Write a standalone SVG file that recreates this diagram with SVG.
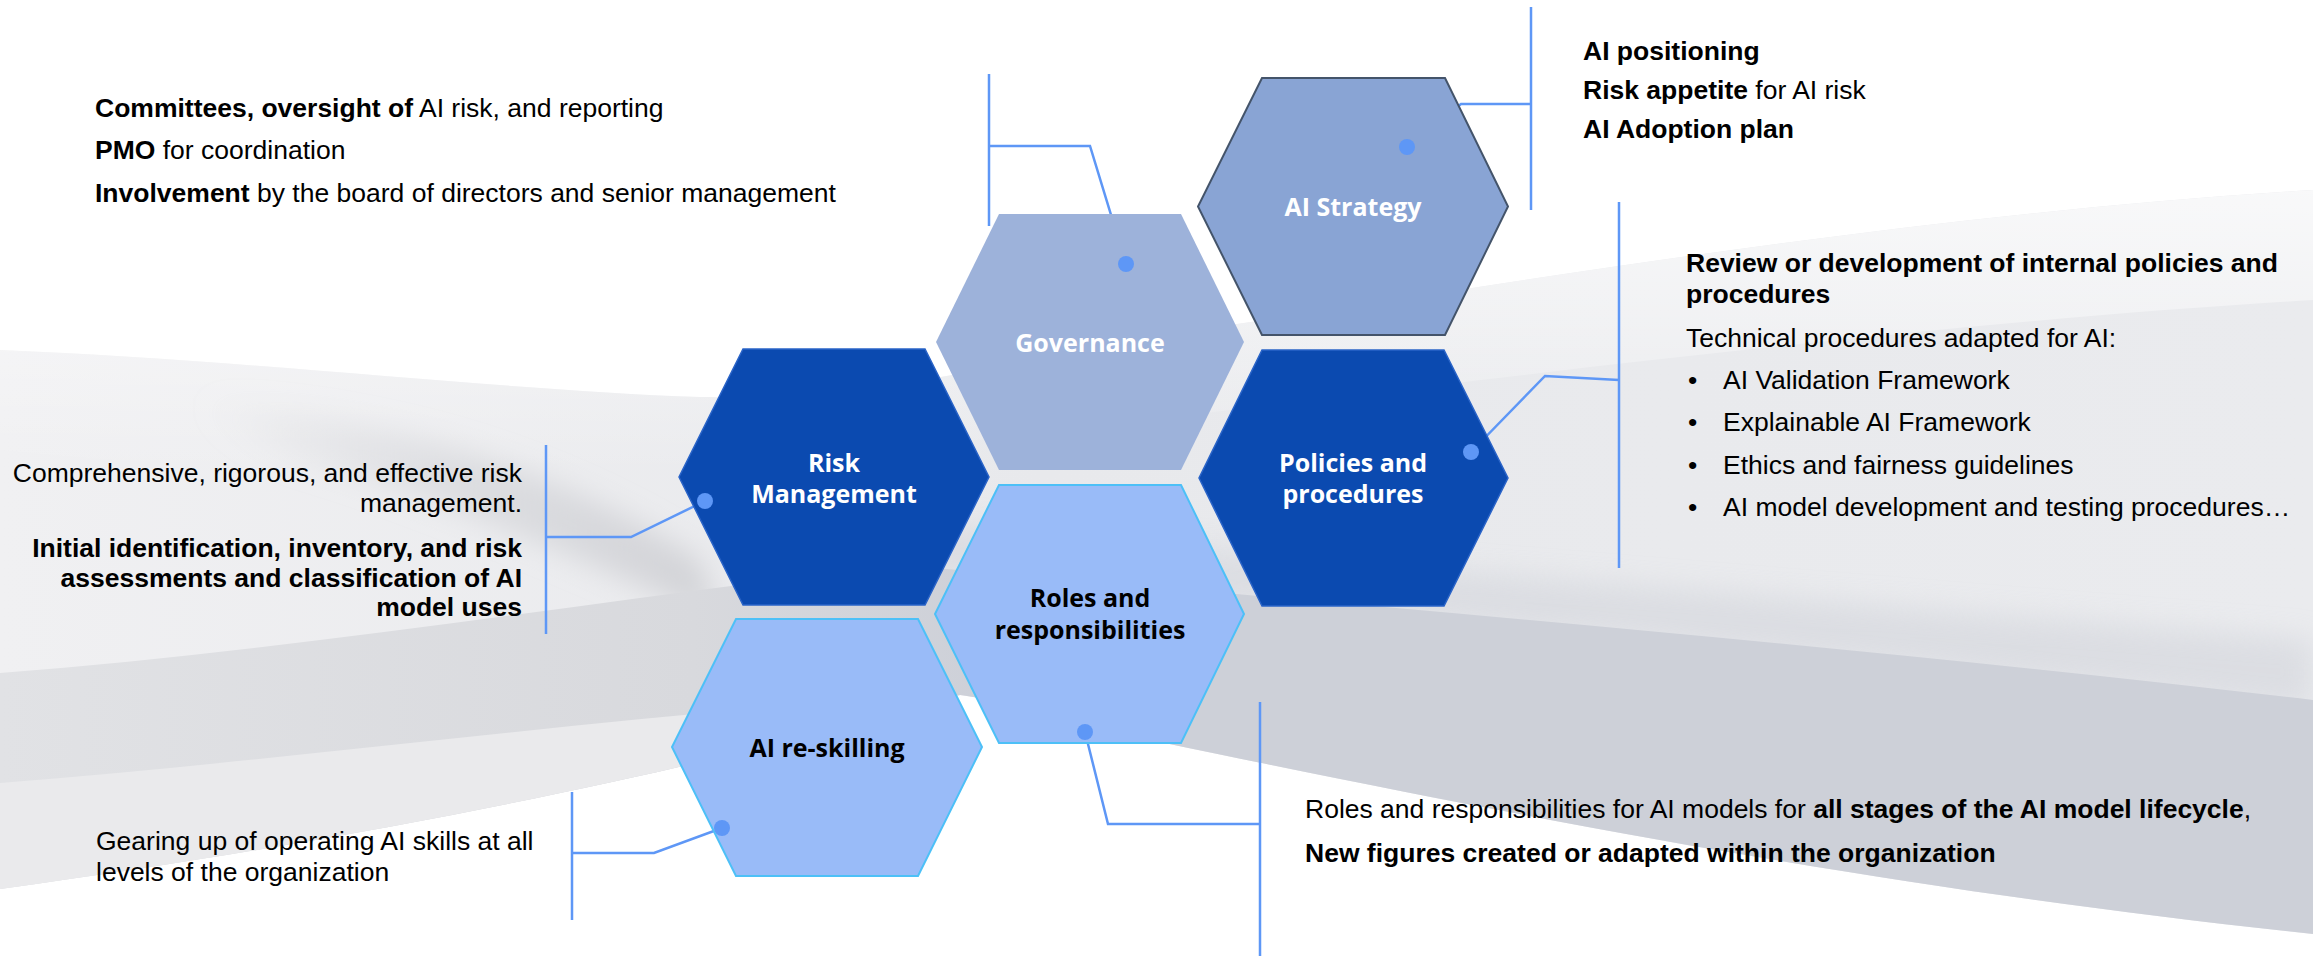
<svg xmlns="http://www.w3.org/2000/svg" width="2313" height="956" viewBox="0 0 2313 956">
<style>
.lbl{font-family:"Open Sans","Noto Sans",sans-serif;font-weight:700;font-size:25px;text-anchor:middle}
.w{fill:#ffffff}
.k{fill:#000000}
.txt{font-family:"Liberation Sans",Arial,sans-serif;font-size:26.5px;fill:#000000}
.b{font-weight:700}
.conn{stroke:#5e97f6;stroke-width:2.5;fill:none}
.dot{fill:#5e97f6}
.strat{fill:#89a4d4;stroke:#44546a;stroke-width:2}
.gov{fill:#9db2da}
.dark{fill:#0b4ab0;stroke:#2a64c8;stroke-width:1.5}
.light{fill:#99bbf8;stroke:#4dc0f7;stroke-width:2}
</style>
<defs>
<linearGradient id="gBase" x1="0" y1="0" x2="1" y2="0">
<stop offset="0" stop-color="#f0f0f2"/>
<stop offset="0.45" stop-color="#e8e9ec"/>
<stop offset="1" stop-color="#eaebee"/>
</linearGradient>
<linearGradient id="gBand" x1="0" y1="0" x2="2313" y2="0" gradientUnits="userSpaceOnUse">
<stop offset="0" stop-color="#e1e2e5"/>
<stop offset="0.3" stop-color="#d8d9dd"/>
<stop offset="0.43" stop-color="#cdd0d8"/>
<stop offset="1" stop-color="#cdd0d8"/>
</linearGradient>
<linearGradient id="gStreak" x1="0" y1="0" x2="1" y2="0">
<stop offset="0" stop-color="#d8d9dc" stop-opacity="0"/>
<stop offset="0.5" stop-color="#d6d7db" stop-opacity="0.7"/>
<stop offset="1" stop-color="#cfd0d4" stop-opacity="0.9"/>
</linearGradient>
<linearGradient id="gTop" x1="0" y1="0" x2="0" y2="1">
<stop offset="0" stop-color="#ffffff" stop-opacity="0.7"/>
<stop offset="1" stop-color="#ffffff" stop-opacity="0"/>
</linearGradient>
<filter id="soft" x="-20%" y="-50%" width="140%" height="200%">
<feGaussianBlur stdDeviation="14"/>
</filter>
<clipPath id="swooshClip">
<path d="M0,350 C250,360 500,390 700,397 C900,400 1050,350 1230,325 C1500,285 1900,215 2313,190 L2313,934 C2000,900 1700,855 1160,742 C1100,725 1000,700 960,695 C800,740 500,820 0,889 Z"/>
</clipPath>
</defs>

<g id="background">
<rect x="0" y="0" width="2313" height="956" fill="#ffffff"/>
<path d="M0,350 C250,360 500,390 700,397 C900,400 1050,350 1230,325 C1500,285 1900,215 2313,190 L2313,934 C2000,900 1700,855 1160,742 C1100,725 1000,700 960,695 C800,740 500,820 0,889 Z" fill="url(#gBase)"/>
<g clip-path="url(#swooshClip)">
<path d="M0,350 C250,360 500,390 700,397 C900,400 1050,350 1230,325 C1500,285 1900,215 2313,190 L2313,300 C1800,330 1200,420 700,470 C400,480 200,470 0,450 Z" fill="url(#gTop)"/>
<path d="M200,400 C400,420 560,470 700,560 L720,620 C600,570 450,500 300,460 C250,445 220,425 200,400 Z" fill="url(#gStreak)" filter="url(#soft)"/>
<path d="M900,520 C1300,560 1800,600 2313,640 L2313,710 C1800,650 1300,610 900,570 Z" fill="#d6d8de" opacity="0.7" filter="url(#soft)"/>
<path d="M0,673 C300,650 600,600 900,565 C1300,600 1800,640 2313,700 L2313,960 L0,960 Z" fill="url(#gBand)"/>
<path d="M0,783 C300,760 700,705 960,695 L960,960 L0,960 Z" fill="#eaeaec"/>
</g>
</g>

<g id="connectors">
<path class="conn" d="M989,74 V226 M989,146 H1090 L1126,264"/>
<path class="conn" d="M1531,7 V210 M1531,104 H1461 L1407,147"/>
<path class="conn" d="M1619,202 V568 M1619,380 L1545,376 L1471,452"/>
<path class="conn" d="M546,445 V634 M546,537 H631 L705,501"/>
<path class="conn" d="M572,792 V920 M572,853 H654 L722,828"/>
<path class="conn" d="M1260,702 V956 M1260,824 H1108 L1085,732"/>
</g>

<g id="node-ai-strategy">
<polygon class="strat" points="1262,78 1445,78 1508,206.5 1445,335 1262,335 1198,206.5"/>
<text class="lbl w" x="1353" y="216">AI Strategy</text>
</g>
<g id="node-governance">
<polygon class="gov" points="999,214 1181,214 1244,342 1181,470 999,470 936,342"/>
<text class="lbl w" x="1090" y="352">Governance</text>
</g>
<g id="node-policies">
<polygon class="dark" points="1262,350 1444,350 1508,478 1444,606 1262,606 1199,478"/>
<text class="lbl w" x="1353" y="472">Policies and</text>
<text class="lbl w" x="1353" y="503">procedures</text>
</g>
<g id="node-risk">
<polygon class="dark" points="743,349 925,349 989,477 925,605 743,605 679,477"/>
<text class="lbl w" x="834" y="472">Risk</text>
<text class="lbl w" x="834" y="503">Management</text>
</g>
<g id="node-roles">
<polygon class="light" points="999,485 1181,485 1244,614 1181,743 999,743 935,614"/>
<text class="lbl k" x="1090" y="607">Roles and</text>
<text class="lbl k" x="1090" y="639">responsibilities</text>
</g>
<g id="node-reskilling">
<polygon class="light" points="736,619 918,619 982,747 918,876 736,876 672,747"/>
<text class="lbl k" x="827" y="757">AI re-skilling</text>
</g>

<g id="dots">
<circle class="dot" cx="1126" cy="264" r="8"/>
<circle class="dot" cx="1407" cy="147" r="8"/>
<circle class="dot" cx="1471" cy="452" r="8"/>
<circle class="dot" cx="705" cy="501" r="8"/>
<circle class="dot" cx="722" cy="828" r="8"/>
<circle class="dot" cx="1085" cy="732" r="8"/>
</g>

<g id="text-governance">
<text class="txt" x="95" y="117"><tspan class="b">Committees, oversight of</tspan> AI risk, and reporting</text>
<text class="txt" x="95" y="159"><tspan class="b">PMO</tspan> for coordination</text>
<text class="txt" x="95" y="202"><tspan class="b">Involvement</tspan> by the board of directors and senior management</text>
</g>
<g id="text-strategy">
<text class="txt b" x="1583" y="60">AI positioning</text>
<text class="txt" x="1583" y="99"><tspan class="b">Risk appetite</tspan> for AI risk</text>
<text class="txt b" x="1583" y="138">AI Adoption plan</text>
</g>
<g id="text-policies">
<text class="txt b" x="1686" y="272">Review or development of internal policies and</text>
<text class="txt b" x="1686" y="303">procedures</text>
<text class="txt" x="1686" y="347">Technical procedures adapted for AI:</text>
<text class="txt" x="1688" y="389">•</text><text class="txt" x="1723" y="389">AI Validation Framework</text>
<text class="txt" x="1688" y="431">•</text><text class="txt" x="1723" y="431">Explainable AI Framework</text>
<text class="txt" x="1688" y="474">•</text><text class="txt" x="1723" y="474">Ethics and fairness guidelines</text>
<text class="txt" x="1688" y="516">•</text><text class="txt" x="1723" y="516">AI model development and testing procedures…</text>
</g>
<g id="text-risk" text-anchor="end">
<text class="txt" x="522" y="482">Comprehensive, rigorous, and effective risk</text>
<text class="txt" x="522" y="512">management.</text>
<text class="txt b" x="522" y="557">Initial identification, inventory, and risk</text>
<text class="txt b" x="522" y="587">assessments and classification of AI</text>
<text class="txt b" x="522" y="616">model uses</text>
</g>
<g id="text-reskilling">
<text class="txt" x="96" y="850">Gearing up of operating AI skills at all</text>
<text class="txt" x="96" y="881">levels of the organization</text>
</g>
<g id="text-roles">
<text class="txt" x="1305" y="818">Roles and responsibilities for AI models for <tspan class="b">all stages of the AI model lifecycle</tspan>,</text>
<text class="txt b" x="1305" y="862" fill="#111">New figures created or adapted within the organization</text>
</g>
</svg>
